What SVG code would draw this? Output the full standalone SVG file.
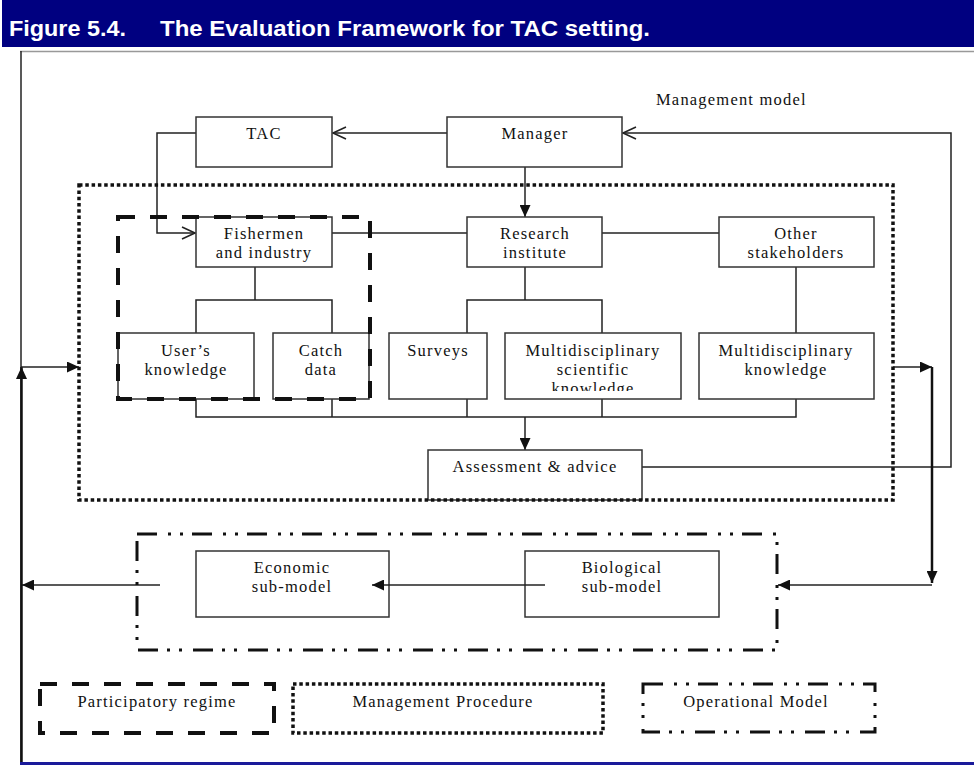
<svg xmlns="http://www.w3.org/2000/svg" width="974" height="770" viewBox="0 0 974 770">
<style>
.box{fill:#fff;stroke:#333;stroke-width:1.5}
.t{font-family:"Liberation Serif","Times New Roman",serif;font-size:16.5px;letter-spacing:1.2px;fill:#111;text-anchor:middle}
.ln{fill:none;stroke:#222;stroke-width:1.5}
.thick{fill:none;stroke:#111;stroke-width:2.5}
.dot{fill:none;stroke:#111;stroke-width:3.5;stroke-dasharray:3.5 2.8}
.dash{fill:none;stroke:#111;stroke-width:4;stroke-dasharray:17 15}
.dd{fill:none;stroke:#111;stroke-width:3;stroke-dasharray:20 11 3 9 3 9}
</style>
<defs>
<marker id="fa" markerUnits="userSpaceOnUse" markerWidth="13" markerHeight="11" refX="12" refY="5.5" orient="auto">
<path d="M0,0 L12,5.5 L0,11 z" fill="#111"/>
</marker>
<marker id="oa" markerUnits="userSpaceOnUse" markerWidth="16" markerHeight="14" refX="14" refY="7" orient="auto">
<path d="M1,1 L14,7 L1,13" fill="none" stroke="#222" stroke-width="1.6"/>
</marker>
<clipPath id="clipSci"><rect x="505" y="333" width="176" height="58"/></clipPath>
</defs>
<rect width="974" height="770" fill="#fff"/>
<g id="header">
<rect x="2" y="0" width="972" height="47" fill="#000080"/>
<text x="9" y="36" font-family="Liberation Sans, Arial, sans-serif" font-weight="bold" font-size="22" fill="#fff" textLength="117" lengthAdjust="spacingAndGlyphs">Figure 5.4.</text>
<text x="160" y="36" font-family="Liberation Sans, Arial, sans-serif" font-weight="bold" font-size="22" fill="#fff" textLength="490" lengthAdjust="spacingAndGlyphs">The Evaluation Framework for TAC setting.</text>
</g>
<g id="frame">
<line x1="20" y1="51.5" x2="974" y2="51.5" stroke="#999" stroke-width="1.5"/>
<line x1="21" y1="51" x2="21" y2="762" stroke="#222" stroke-width="1.5"/>
<line x1="20" y1="763.5" x2="974" y2="763.5" stroke="#1a1a9a" stroke-width="3"/>
</g>
<text id="management-model-label" class="t" x="656" y="105" style="text-anchor:start">Management model</text>
<g id="connectors">
<polyline class="ln" points="447,133 333,133" marker-end="url(#oa)"/>
<polyline class="ln" points="642,467 951,467 951,133 623,133" marker-end="url(#oa)"/>
<polyline class="ln" points="196,133 157,133 157,233 195,233" marker-end="url(#oa)"/>
<line class="ln" x1="525" y1="167" x2="525" y2="217" marker-end="url(#fa)"/>
<line class="ln" x1="332" y1="233" x2="467" y2="233"/>
<line class="ln" x1="602" y1="233" x2="719" y2="233"/>
<polyline class="ln" points="255,267 255,300"/>
<polyline class="ln" points="196,333 196,300 332,300 332,333"/>
<polyline class="ln" points="525,267 525,300"/>
<polyline class="ln" points="467,333 467,300 602,300 602,333"/>
<line class="ln" x1="796" y1="267" x2="796" y2="333"/>
<polyline class="ln" points="196,399 196,417 796,417 796,399"/>
<line class="ln" x1="332" y1="399" x2="332" y2="417"/>
<line class="ln" x1="467" y1="399" x2="467" y2="417"/>
<line class="ln" x1="602" y1="399" x2="602" y2="417"/>
<line class="ln" x1="525" y1="417" x2="525" y2="450" marker-end="url(#fa)"/>
<line class="ln" x1="160" y1="585" x2="22" y2="585" marker-end="url(#fa)"/>
<line class="thick" x1="21.5" y1="762" x2="21.5" y2="367" marker-end="url(#fa)"/>
<line class="ln" x1="21" y1="367" x2="79" y2="367" marker-end="url(#fa)"/>
<line class="ln" x1="893" y1="367" x2="932" y2="367" marker-end="url(#fa)"/>
<line class="thick" x1="932" y1="367" x2="932" y2="583" marker-end="url(#fa)"/>
<line class="ln" x1="932" y1="585" x2="778" y2="585" marker-end="url(#fa)"/>
</g>
<g id="tac"><rect class="box" x="196" y="117" width="136" height="50"/><text class="t" x="264" y="139">TAC</text></g>
<g id="manager"><rect class="box" x="447" y="117" width="175" height="50"/><text class="t" x="535" y="139">Manager</text></g>
<g id="fishermen"><rect class="box" x="196" y="217" width="136" height="50"/><text class="t" x="264" y="239">Fishermen</text><text class="t" x="264" y="258">and industry</text></g>
<g id="research"><rect class="box" x="467" y="217" width="135" height="50"/><text class="t" x="535" y="239">Research</text><text class="t" x="535" y="258">institute</text></g>
<g id="other"><rect class="box" x="719" y="217" width="155" height="50"/><text class="t" x="796" y="239">Other</text><text class="t" x="796" y="258">stakeholders</text></g>
<g id="users"><rect class="box" x="118" y="333" width="136" height="66"/><text class="t" x="186" y="356">User’s</text><text class="t" x="186" y="375">knowledge</text></g>
<g id="catch"><rect class="box" x="273" y="333" width="96" height="66"/><text class="t" x="321" y="356">Catch</text><text class="t" x="321" y="375">data</text></g>
<g id="surveys"><rect class="box" x="389" y="333" width="98" height="66"/><text class="t" x="438" y="356">Surveys</text></g>
<g id="multisci"><rect class="box" x="505" y="333" width="176" height="66"/><g clip-path="url(#clipSci)"><text class="t" x="593" y="356">Multidisciplinary</text><text class="t" x="593" y="375">scientific</text><text class="t" x="593" y="394">knowledge</text></g></g>
<g id="multiknow"><rect class="box" x="699" y="333" width="175" height="66"/><text class="t" x="786" y="356">Multidisciplinary</text><text class="t" x="786" y="375">knowledge</text></g>
<g id="assessment"><rect class="box" x="428" y="450" width="214" height="50"/><text class="t" x="535" y="472">Assessment &amp; advice</text></g>
<g id="economic"><rect class="box" x="196" y="551" width="193" height="66"/><text class="t" x="292" y="573">Economic</text><text class="t" x="292" y="592">sub-model</text></g>
<g id="biological"><rect class="box" x="525" y="551" width="194" height="66"/><text class="t" x="622" y="573">Biological</text><text class="t" x="622" y="592">sub-model</text></g>
<g id="connectors-over">
<line class="ln" x1="545" y1="585" x2="372" y2="585" marker-end="url(#fa)"/>
</g>
<g id="management-procedure"><rect class="dot" x="79" y="185" width="814" height="315"/></g>
<g id="participatory-regime"><rect class="dash" x="118" y="217" width="252" height="182"/></g>
<g id="operational-model"><rect class="dd" x="137" y="534" width="640" height="116"/></g>
<g id="legend">
<g id="legend-participatory"><rect class="dash" x="40" y="684" width="234" height="49"/><text class="t" x="157" y="707">Participatory regime</text></g>
<g id="legend-procedure"><rect class="dot" x="293" y="684" width="310" height="49"/><text class="t" x="443" y="707">Management Procedure</text></g>
<g id="legend-operational"><rect class="dd" x="643" y="684" width="232" height="48"/><text class="t" x="756" y="707">Operational Model</text></g>
</g>
</svg>
